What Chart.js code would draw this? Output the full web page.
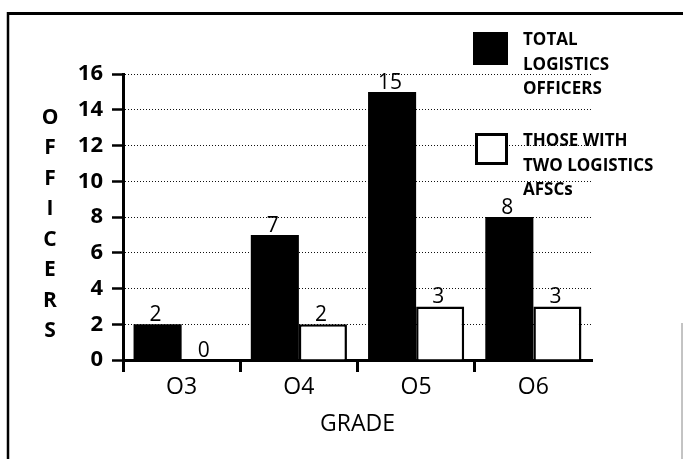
<!DOCTYPE html>
<html>
<head>
<meta charset="utf-8">
<script src="https://cdn.jsdelivr.net/npm/chart.js@4/dist/chart.umd.min.js"></script>
<style>
  html, body { margin: 0; padding: 0; background: #fff; }
  #wrap { width: 683px; height: 459px; position: relative; }
</style>
</head>
<body>
<div id="wrap"><canvas id="chart" width="683" height="459"></canvas></div>
<script>
// Officer counts by grade
const grades = ['O3', 'O4', 'O5', 'O6'];
const totalOfficers = [2, 7, 15, 8];
const twoAfscOfficers = [0, 2, 3, 3];
const totalLabel = ['TOTAL', 'LOGISTICS', 'OFFICERS'];
const twoAfscLabel = ['THOSE WITH', 'TWO LOGISTICS', 'AFSCs'];
const yTitle = 'OFFICERS';
const xTitle = 'GRADE';
const yTicks = [0, 2, 4, 6, 8, 10, 12, 14, 16];

const FONT = '"Open Sans", "DejaVu Sans", sans-serif';

// Page frame around the figure
const framePlugin = {
  id: 'frame',
  beforeDraw(chart) {
    const ctx = chart.ctx;
    ctx.save();
    ctx.fillStyle = '#fff';
    ctx.fillRect(0, 0, chart.width, chart.height);
    ctx.strokeStyle = '#000';
    ctx.lineWidth = 3;
    ctx.beginPath();
    ctx.moveTo(7, 13.5);
    ctx.lineTo(chart.width, 13.5);
    ctx.stroke();
    ctx.lineWidth = 2.5;
    ctx.beginPath();
    ctx.moveTo(8, 12);
    ctx.lineTo(8, chart.height);
    ctx.stroke();
    ctx.strokeStyle = '#888';
    ctx.lineWidth = 1;
    ctx.beginPath();
    ctx.moveTo(682, 323);
    ctx.lineTo(682, chart.height);
    ctx.stroke();
    ctx.restore();
  }
};

// Values printed above each bar
const valueLabels = {
  id: 'valueLabels',
  afterDatasetsDraw(chart) {
    const ctx = chart.ctx;
    ctx.save();
    ctx.fillStyle = '#000';
    ctx.font = '21px ' + FONT;
    ctx.textAlign = 'center';
    ctx.textBaseline = 'alphabetic';
    chart.data.datasets.forEach((ds, i) => {
      chart.getDatasetMeta(i).data.forEach((bar, j) => {
        ctx.fillText(String(ds.data[j]), bar.x - 2, bar.y - 3);
      });
    });
    ctx.restore();
  }
};

// Stacked vertical y-axis title and the two-entry legend
const annotations = {
  id: 'annotations',
  afterDraw(chart) {
    const ctx = chart.ctx;
    ctx.save();
    ctx.fillStyle = '#000';
    ctx.font = 'bold 21px ' + FONT;
    ctx.textAlign = 'center';
    ctx.textBaseline = 'middle';
    const letters = yTitle.split('');
    letters.forEach((ch, i) => ctx.fillText(ch, 50, 118 + i * 30.5));

    const entries = chart.data.datasets;
    const tops = [32, 133];
    ctx.font = 'bold 17px ' + FONT;
    ctx.textAlign = 'left';
    ctx.textBaseline = 'alphabetic';
    entries.forEach((ds, i) => {
      const y0 = tops[i];
      if (ds.borderWidth) {
        ctx.fillStyle = '#fff';
        ctx.fillRect(475, y0, 33, 32);
        ctx.strokeStyle = '#000';
        ctx.lineWidth = 3;
        ctx.strokeRect(476.5, y0 + 1.5, 30, 29);
      } else {
        ctx.fillStyle = ds.backgroundColor;
        ctx.fillRect(473, y0, 35, 33);
      }
      ctx.fillStyle = '#000';
      ds.label.forEach((line, k) => ctx.fillText(line, 523, y0 + 13 + k * 24.5));
    });
    ctx.restore();
  }
};

new Chart(document.getElementById('chart'), {
  type: 'bar',
  data: {
    labels: grades,
    datasets: [
      {
        label: totalLabel,
        data: totalOfficers,
        backgroundColor: '#000',
        borderWidth: 0,
        categoryPercentage: 0.82,
        barPercentage: 1.0
      },
      {
        label: twoAfscLabel,
        data: twoAfscOfficers,
        backgroundColor: '#fff',
        borderColor: '#000',
        borderWidth: 2.5,
        borderSkipped: 'bottom',
        categoryPercentage: 0.82,
        barPercentage: 1.0
      }
    ]
  },
  options: {
    responsive: false,
    animation: false,
    layout: { padding: { top: 74, right: 91, bottom: 0, left: 0 } },
    plugins: {
      legend: { display: false },
      tooltip: { enabled: false },
      title: { display: false }
    },
    scales: {
      x: {
        afterFit(scale) { scale.height = 99; },
        grid: {
          offset: true,
          drawOnChartArea: false,
          tickLength: 12,
          tickWidth: 3,
          tickColor: (c) => (c.type === 'tick' ? '#000' : 'rgba(0,0,0,0)')
        },
        border: { display: true, color: '#000', width: 3 },
        ticks: {
          color: '#000',
          padding: 2,
          font: { family: FONT, size: 23, weight: 'normal' }
        },
        title: {
          display: true,
          text: xTitle,
          color: '#000',
          padding: { top: 0, bottom: 21 },
          font: { family: FONT, size: 23, weight: 'normal' }
        }
      },
      y: {
        min: 0,
        max: 16,
        afterFit(scale) { scale.width = 123; },
        afterBuildTicks(scale) { scale.ticks = yTicks.map(v => ({ value: v })); },
        grid: {
          color: '#111',
          lineWidth: 1,
          tickLength: 11,
          tickWidth: 2.5,
          tickColor: '#000',
          tickBorderDash: []
        },
        border: { display: true, color: '#000', width: 3, dash: [1, 2] },
        ticks: {
          color: '#000',
          padding: 9,
          font: { family: FONT, size: 22, weight: 'bold' }
        }
      }
    }
  },
  plugins: [framePlugin, valueLabels, annotations]
});
</script>
</body>
</html>
